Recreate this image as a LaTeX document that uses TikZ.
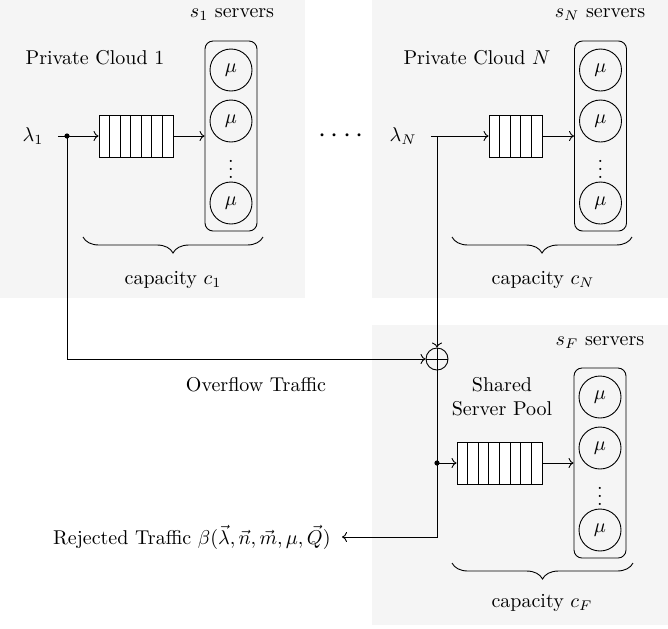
\documentclass[tikz,border=0pt]{standalone}
\usepackage{tikz}
\usetikzlibrary{arrows,arrows.meta,decorations.pathreplacing}

\begin{document}
\begin{tikzpicture}[x=0.5pt,y=-0.5pt,line width=0.45pt,>={To[length=2.5pt,width=5pt]}]
\tikzstyle{every node}=[inner sep=1pt]
\tikzstyle{panel}=[fill=black!4]
\tikzstyle{srv}=[draw,circle,minimum size=21pt,inner sep=0pt]
\tikzstyle{pool}=[draw,rounded corners=4pt,minimum width=26pt,minimum height=95pt]
\tikzstyle{queue}=[draw,fill=white,minimum height=21pt,inner sep=0pt]
\tikzstyle{cbrace}=[decorate,decoration={brace,mirror,amplitude=8pt}]
\useasboundingbox (0,0) rectangle (668,628);
% background panels
\fill[panel] (0,0) rectangle (305,298);
\fill[panel] (372,0) rectangle (668,298);
\fill[panel] (372,325) rectangle (668,625);
% private cloud 1
\node (s1) at (232,15) {$s_1$ servers};
\node (pc1) at (95,58) {Private Cloud 1};
\node (l1) at (33,136) {$\lambda_1$};
\coordinate (d1) at (67,136);
\node (q1) [queue,minimum width=37pt] at (136,136) {};
\foreach \i in {1,...,6} \draw (99+\i*10.57,115) -- (99+\i*10.57,157);
\node (p1) [pool] at (231,136) {};
\node (m11) [srv] at (231,70) {$\mu$};
\node (m12) [srv] at (231,121) {$\mu$};
\node (v1) at (231,163) {$\vdots$};
\node (m13) [srv] at (231,203) {$\mu$};
\draw[cbrace] (83,237) -- (263,237);
\node (c1) at (173,280) {capacity $c_1$};
% private cloud N
\node (sN) at (600,15) {$s_N$ servers};
\node (pcN) at (477,58) {Private Cloud $N$};
\node (lN) at (403,136) {$\lambda_N$};
\node (qN) [queue,minimum width=26.5pt] at (515.5,136) {};
\foreach \i in {1,...,4} \draw (489+\i*10.6,115) -- (489+\i*10.6,157);
\node (pN) [pool] at (600.5,136) {};
\node (mN1) [srv] at (600.5,70) {$\mu$};
\node (mN2) [srv] at (600.5,121) {$\mu$};
\node (vN) at (600.5,163) {$\vdots$};
\node (mN3) [srv] at (600.5,203) {$\mu$};
\draw[cbrace] (452,237) -- (632,237);
\node (cN) at (543,280) {capacity $c_N$};
\node (dots) at (341,136) {\Large${\cdot}\hspace{2.3pt}{\cdot}\hspace{2.3pt}{\cdot}\hspace{2.3pt}{\cdot}$};
% shared pool
\node (plus) [draw,circle,minimum size=11pt,inner sep=0pt] at (437,359) {};
\draw (plus.north) -- (plus.south);
\draw (plus.west) -- (plus.east);
\node (sF) at (600,343) {$s_F$ servers};
\node (ssp) [align=center] at (502,397) {Shared\\Server Pool};
\node (ovf) at (256,385) {Overflow Traffic};
\coordinate (dF) at (437,463);
\node (qF) [queue,minimum width=42.5pt] at (499.5,463) {};
\foreach \i in {1,...,7} \draw (457+\i*10.62,442) -- (457+\i*10.62,484);
\node (pF) [pool] at (600,463) {};
\node (mF1) [srv] at (600,397) {$\mu$};
\node (mF2) [srv] at (600,448) {$\mu$};
\node (vF) at (600,490) {$\vdots$};
\node (mF3) [srv] at (600,530) {$\mu$};
\draw[cbrace] (452,563) -- (633,563);
\node (cF) at (542,603) {capacity $c_F$};
\node (rej) [anchor=east,inner sep=5.5pt] at (342,537) {Rejected Traffic $\beta(\vec{\lambda},\vec{n},\vec{m},\mu,\vec{Q})$};
% traffic
\draw[shorten <=6pt] (l1) -- (d1);
\draw[->] (d1) -- (q1);
\draw[->] (q1) -- (p1);
\draw[->] (d1) |- (plus);
\draw[->,shorten <=6pt] (lN) -- (qN);
\draw[->] (qN) -- (pN);
\draw[->] (437,136) -- (plus);
\draw (plus) -- (dF);
\draw[->] (dF) -- (qF);
\draw[->] (qF) -- (pF);
\draw[->] (dF) |- (rej);
\fill (d1) circle (1.3pt);
\fill (dF) circle (1.3pt);
\end{tikzpicture}
\end{document}
